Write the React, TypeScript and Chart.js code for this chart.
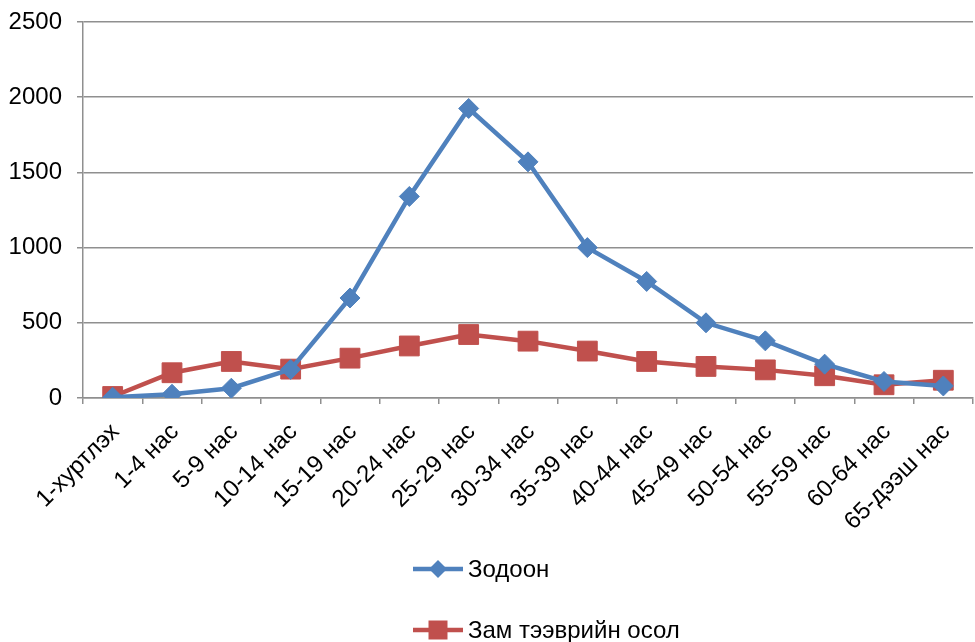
import React, { useEffect, useRef } from "react";
import { Chart, registerables } from "chart.js";

Chart.register(...registerables);

const categories = [
  "1-хуртлэх", "1-4 нас", "5-9 нас", "10-14 нас", "15-19 нас", "20-24 нас", "25-29 нас",
  "30-34 нас", "35-39 нас", "40-44 нас", "45-49 нас", "50-54 нас", "55-59 нас", "60-64 нас", "65-дээш нас",
];
const zodoon = [5, 25, 65, 190, 665, 1340, 1925, 1570, 1000, 775, 500, 380, 225, 110, 80];
const zamOsol = [10, 168, 243, 192, 265, 346, 422, 378, 312, 243, 210, 187, 148, 88, 118];
const seriesNames = ["Зодоон", "Зам тээврийн осол"];
const yTicks = [0, 500, 1000, 1500, 2000, 2500];

const BLUE = "#4F81BD";
const RED = "#C0504D";
const GRID = "#8f8f8f";
const FAMILY = "'Liberation Sans', Arial, sans-serif";
const FONT_SIZE = 24;

const legendPlugin = {
  id: "stackedLegend",
  afterDraw(chart: any) {
    const ctx = chart.ctx as CanvasRenderingContext2D;
    const left = 413;
    const baseY = chart.height - 73;
    chart.data.datasets.forEach((ds: any, i: number) => {
      const y = baseY + i * 61;
      ctx.save();
      ctx.strokeStyle = ds.borderColor;
      ctx.lineWidth = 4.5;
      ctx.beginPath();
      ctx.moveTo(left, y);
      ctx.lineTo(left + 50, y);
      ctx.stroke();
      ctx.fillStyle = ds.borderColor;
      const cx = left + 25;
      ctx.beginPath();
      if (ds.pointStyle === "rectRot") {
        ctx.moveTo(cx, y - 9);
        ctx.lineTo(cx + 9, y);
        ctx.lineTo(cx, y + 9);
        ctx.lineTo(cx - 9, y);
        ctx.closePath();
      } else {
        ctx.rect(cx - 9.5, y - 9.5, 19, 19);
      }
      ctx.fill();
      ctx.fillStyle = "#000";
      ctx.font = `${FONT_SIZE}px ${FAMILY}`;
      ctx.textBaseline = "middle";
      ctx.textAlign = "left";
      ctx.fillText(ds.label, left + 55, y + 1);
      ctx.restore();
    });
  },
};

export default function App() {
  const ref = useRef<HTMLCanvasElement | null>(null);
  useEffect(() => {
    document.body.style.margin = "0";
    const canvas = ref.current;
    if (!canvas) return;
    const chart = new Chart(canvas, {
      type: "line",
      data: {
        labels: categories,
        datasets: [
          {
            label: seriesNames[0],
            data: zodoon,
            borderColor: BLUE,
            backgroundColor: BLUE,
            borderWidth: 4.5,
            pointStyle: "rectRot",
            pointRadius: 10,
            pointBorderWidth: 1,
            tension: 0,
          },
          {
            label: seriesNames[1],
            data: zamOsol,
            borderColor: RED,
            backgroundColor: RED,
            borderWidth: 4.5,
            pointStyle: "rect",
            pointRadius: 14,
            pointBorderWidth: 1,
            tension: 0,
          },
        ],
      },
      options: {
        animation: false,
        responsive: true,
        maintainAspectRatio: false,
        layout: { autoPadding: false, padding: { top: 22, right: 2, left: 0, bottom: 0 } },
        plugins: { legend: { display: false }, tooltip: { enabled: false } },
        scales: {
          x: {
            offset: true,
            grid: {
              offset: true,
              drawOnChartArea: false,
              drawTicks: true,
              tickLength: 6,
              color: GRID,
              lineWidth: 1.5,
            },
            border: { color: GRID, width: 1.5 },
            ticks: {
              minRotation: 45,
              maxRotation: 45,
              autoSkip: false,
              color: "#000",
              padding: 14,
              labelOffset: 3,
              font: { size: FONT_SIZE, family: FAMILY },
            },
            afterFit: (s: any) => {
              s.height = 244;
              s.paddingLeft = 0;
              s.paddingRight = 0;
            },
          },
          y: {
            min: 0,
            max: 2500,
            afterBuildTicks: (s: any) => {
              s.ticks = yTicks.map((v) => ({ value: v }));
            },
            ticks: {
              color: "#000",
              padding: 15,
              font: { size: FONT_SIZE, family: FAMILY },
              callback: (v: any) => String(v),
            },
            grid: { color: GRID, lineWidth: 1.5, tickLength: 6 },
            border: { color: GRID, width: 1.5 },
            afterFit: (s: any) => {
              s.width = 83;
              s.paddingTop = 0;
              s.paddingBottom = 0;
            },
          },
        },
      },
      plugins: [legendPlugin],
    });
    return () => chart.destroy();
  }, []);
  return (
    <div style={{ width: 975, height: 642, position: "relative", background: "#fff" }}>
      <canvas ref={ref} />
    </div>
  );
}
